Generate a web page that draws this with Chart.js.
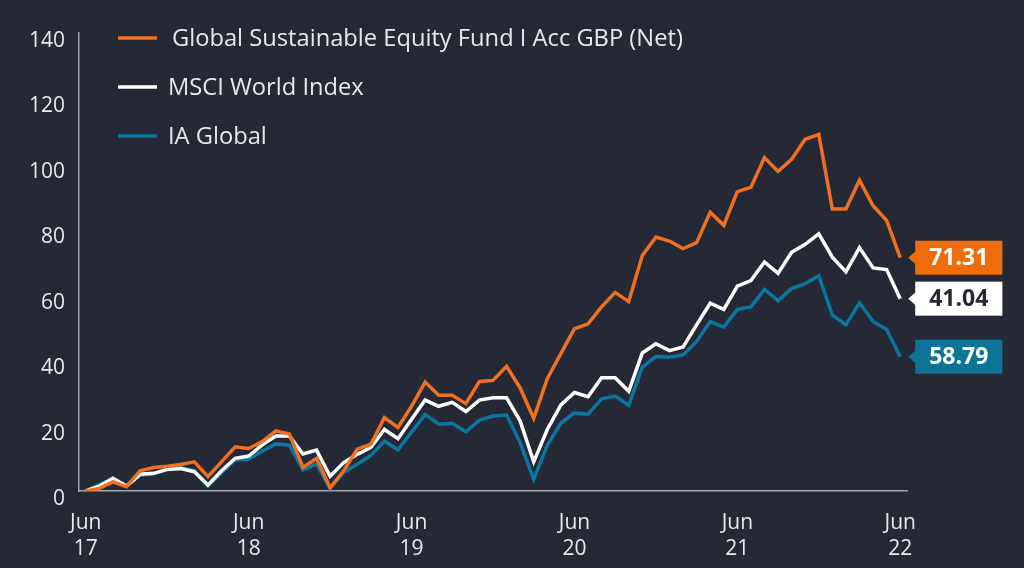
<!DOCTYPE html>
<html>
<head>
<meta charset="utf-8">
<script src="https://cdn.jsdelivr.net/npm/chart.js@4/dist/chart.umd.min.js"></script>
<style>
  html, body { margin: 0; padding: 0; background: #252935; }
  #wrap { width: 1024px; height: 568px; position: relative; }
</style>
</head>
<body>
<div id="wrap"><canvas id="chart" width="1024" height="568"></canvas></div>
<script>
const months = [
    'Jun 17', 'Jul 17', 'Aug 17', 'Sep 17', 'Oct 17', 'Nov 17', 'Dec 17', 'Jan 18', 'Feb 18', 'Mar 18', 'Apr 18', 'May 18',
    'Jun 18', 'Jul 18', 'Aug 18', 'Sep 18', 'Oct 18', 'Nov 18', 'Dec 18', 'Jan 19', 'Feb 19', 'Mar 19', 'Apr 19', 'May 19',
    'Jun 19', 'Jul 19', 'Aug 19', 'Sep 19', 'Oct 19', 'Nov 19', 'Dec 19', 'Jan 20', 'Feb 20', 'Mar 20', 'Apr 20', 'May 20',
    'Jun 20', 'Jul 20', 'Aug 20', 'Sep 20', 'Oct 20', 'Nov 20', 'Dec 20', 'Jan 21', 'Feb 21', 'Mar 21', 'Apr 21', 'May 21',
    'Jun 21', 'Jul 21', 'Aug 21', 'Sep 21', 'Oct 21', 'Nov 21', 'Dec 21', 'Jan 22', 'Feb 22', 'Mar 22', 'Apr 22', 'May 22',
    'Jun 22'
];

const fundValues = [
    0, 0.8, 2.8, 1.3, 6.2, 7.2, 7.6, 8.1, 8.9, 4.4,
    8.9, 13.5, 13.0, 15.1, 18.4, 17.4, 7.2, 10.0, 1.0, 6.2,
    12.8, 14.3, 22.4, 19.4, 25.9, 33.3, 29.3, 29.3, 26.7, 33.5,
    33.8, 38.1, 31.5, 22.2, 34.3, 42.0, 49.6, 51.1, 56.3, 60.7,
    57.9, 72.0, 77.6, 76.4, 74.1, 75.9, 85.2, 81.2, 91.5, 92.8,
    101.9, 97.7, 101.4, 107.5, 109.0, 86.2, 86.2, 95.0, 87.2, 82.7, 71.31
];

const indexValues = [
    0, 1.5, 3.9, 1.5, 5.1, 5.4, 6.6, 6.9, 5.9, 1.8,
    6.2, 10.0, 10.7, 14.1, 16.8, 16.8, 11.3, 12.5, 4.5, 8.7,
    11.2, 13.3, 18.8, 16.0, 21.9, 27.8, 25.9, 27.1, 24.3, 27.8,
    28.5, 28.5, 21.4, 8.9, 18.8, 26.3, 30.1, 28.8, 34.6, 34.6,
    30.5, 42.2, 45.0, 42.9, 44.0, 50.8, 57.4, 55.5, 62.6, 64.3,
    70.0, 66.5, 73.0, 75.4, 78.6, 71.5, 67.0, 74.4, 68.2, 67.7, 58.79
];

const sectorValues = [
    0, 2.0, 3.6, 1.5, 4.9, 5.2, 6.6, 7.2, 6.2, 1.5,
    5.6, 9.5, 9.7, 12.2, 14.4, 14.0, 6.4, 8.3, 0.8, 5.7,
    8.2, 10.9, 15.3, 12.6, 18.0, 23.4, 20.4, 20.7, 18.1, 21.7,
    22.9, 23.2, 14.8, 3.6, 14.0, 20.7, 23.9, 23.5, 28.2, 29.0,
    26.2, 37.9, 41.1, 40.9, 41.6, 45.7, 51.8, 50.1, 55.5, 56.3,
    61.6, 58.2, 61.9, 63.4, 65.8, 53.8, 50.8, 57.5, 51.8, 49.4, 41.04
];

const seriesNames = ['Global Sustainable Equity Fund I Acc GBP (Net)', 'MSCI World Index', 'IA Global'];
const endLabels = ['71.31', '41.04', '58.79'];
const yMin = 0;
const yMax = 140;
const yStep = 20;

const lineColors = ['#f07022', '#ffffff', '#0b76a0'];
const boxColors = ['#ef6c0a', '#ffffff', '#0d7397'];
const boxTextColors = ['#ffffff', '#252935', '#ffffff'];
const textColor = '#e8e8e8';
const fontFamily = '"Open Sans", "Noto Sans", sans-serif';

// legend drawn by hand: vertical list in the top left of the plot
const legendPlugin = {
    id: 'sideLegend',
    afterDraw(chart) {
        const ctx = chart.ctx;
        ctx.save();
        ctx.font = '23.7px ' + fontFamily;
        ctx.textBaseline = 'middle';
        ctx.textAlign = 'left';
        seriesNames.forEach((name, i) => {
            const y = 38 + i * 49;
            ctx.strokeStyle = lineColors[i];
            ctx.lineWidth = 3.5;
            ctx.beginPath();
            ctx.moveTo(118, y);
            ctx.lineTo(157, y);
            ctx.stroke();
            ctx.fillStyle = textColor;
            ctx.fillText(name, i === 0 ? 172 : 168, y + 1);
        });
        ctx.restore();
    }
};

// value boxes next to the last point of each line
const endLabelPlugin = {
    id: 'endLabels',
    afterDatasetsDraw(chart) {
        const ctx = chart.ctx;
        ctx.save();
        ctx.font = 'bold 23px ' + fontFamily;
        ctx.textBaseline = 'middle';
        ctx.textAlign = 'center';
        chart.data.datasets.forEach((ds, i) => {
            const meta = chart.getDatasetMeta(i);
            const pt = meta.data[meta.data.length - 1];
            const left = pt.x + 15;
            const w = ctx.measureText(endLabels[i]).width + 28;
            const h = 34;
            ctx.fillStyle = boxColors[i];
            ctx.fillRect(left, pt.y - h / 2, w, h);
            ctx.beginPath();
            ctx.moveTo(left - 7, pt.y);
            ctx.lineTo(left + 1, pt.y - 7);
            ctx.lineTo(left + 1, pt.y + 7);
            ctx.closePath();
            ctx.fill();
            ctx.fillStyle = boxTextColors[i];
            ctx.fillText(endLabels[i], left + w / 2, pt.y + 1);
        });
        ctx.restore();
    }
};

const makeDataset = (i, values) => ({
    label: seriesNames[i],
    data: values,
    borderColor: lineColors[i],
    backgroundColor: lineColors[i],
    borderWidth: 3.5,
    pointRadius: 0,
    tension: 0,
    fill: false
});

new Chart(document.getElementById('chart'), {
    type: 'line',
    data: {
        labels: months,
        datasets: [
            makeDataset(0, fundValues),
            makeDataset(1, indexValues),
            makeDataset(2, sectorValues)
        ]
    },
    options: {
        responsive: false,
        animation: false,
        devicePixelRatio: 1,
        layout: { padding: { top: 33, right: 117, left: 0, bottom: 0 } },
        plugins: {
            legend: { display: false },
            tooltip: { enabled: false }
        },
        scales: {
            x: {
                type: 'category',
                offset: true,
                grid: { display: false, drawTicks: false },
                border: { display: true, color: '#a3a5ab', width: 1.5 },
                ticks: {
                    autoSkip: false,
                    maxRotation: 0,
                    padding: 19,
                    color: textColor,
                    font: { family: fontFamily, size: 21, lineHeight: 1.25 },
                    callback: (val, idx) => idx % 12 === 0 ? months[idx].split(' ') : null
                },
                afterFit: (scale) => { scale.height = 77; }
            },
            y: {
                min: yMin,
                max: yMax,
                grid: { display: false, drawTicks: false },
                border: { display: true, color: '#a3a5ab', width: 1.5 },
                ticks: {
                    stepSize: yStep,
                    padding: 14,
                    labelOffset: 8,
                    color: textColor,
                    font: { family: fontFamily, size: 21 }
                },
                afterFit: (scale) => { scale.width = 79; }
            }
        }
    },
    plugins: [legendPlugin, endLabelPlugin]
});
</script>
</body>
</html>
